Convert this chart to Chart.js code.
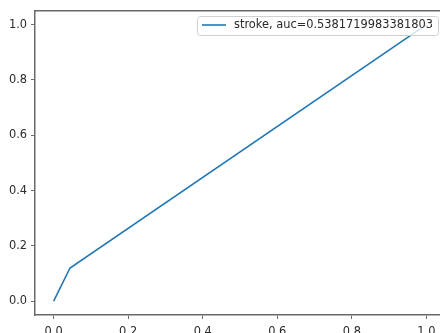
<!DOCTYPE html>
<html>
<head>
<meta charset="utf-8">
<script src="https://cdn.jsdelivr.net/npm/chart.js@4/dist/chart.umd.min.js"></script>
<style>
  html, body { margin: 0; padding: 0; overflow: hidden; background: #fff; width: 440px; height: 333px; }
  #wrap { position: absolute; left: 0; top: 0; width: 445px; height: 333px; }
</style>
</head>
<body>
<div id="wrap"><canvas id="c" width="445" height="333"></canvas></div>
<script>
const fpr = [0, 0.044, 1];
const tpr = [0, 0.12, 1];
const xTickValues = [0, 0.2, 0.4, 0.6, 0.8, 1.0];
const yTickValues = [0, 0.2, 0.4, 0.6, 0.8, 1.0];
const seriesLabel = 'stroke, auc=0.5381719983381803';

const FONT = 'DejaVu Sans';
const SPINE = '#6a6a6a';
const TXT = '#2a2a2a';
const BLUE = '#1f77b4';

const points = fpr.map((x, i) => ({ x: x, y: tpr[i] }));

const frame = {
  id: 'frame',
  afterDraw(chart) {
    const { ctx, chartArea: a } = chart;
    ctx.save();
    ctx.strokeStyle = SPINE;
    ctx.lineWidth = 1.5;
    ctx.beginPath();
    ctx.moveTo(a.left, a.top);
    ctx.lineTo(a.right, a.top);
    ctx.moveTo(a.right, a.top);
    ctx.lineTo(a.right, a.bottom);
    ctx.stroke();

    // legend box
    const bx = 197.5, by = 16.5, bw = 241, bh = 19;
    const r = 3;
    ctx.fillStyle = 'rgba(255,255,255,0.8)';
    ctx.strokeStyle = '#d0d0d0';
    ctx.lineWidth = 1;
    ctx.beginPath();
    ctx.moveTo(bx + r, by);
    ctx.lineTo(bx + bw - r, by);
    ctx.arcTo(bx + bw, by, bx + bw, by + r, r);
    ctx.lineTo(bx + bw, by + bh - r);
    ctx.arcTo(bx + bw, by + bh, bx + bw - r, by + bh, r);
    ctx.lineTo(bx + r, by + bh);
    ctx.arcTo(bx, by + bh, bx, by + bh - r, r);
    ctx.lineTo(bx, by + r);
    ctx.arcTo(bx, by, bx + r, by, r);
    ctx.closePath();
    ctx.fill();
    ctx.stroke();

    ctx.strokeStyle = BLUE;
    ctx.lineWidth = 1.6;
    ctx.beginPath();
    ctx.moveTo(202, 25);
    ctx.lineTo(226, 25);
    ctx.stroke();

    ctx.fillStyle = TXT;
    ctx.font = '11.4px "' + FONT + '"';
    ctx.textBaseline = 'middle';
    ctx.textAlign = 'left';
    ctx.fillText(seriesLabel, 234, 25.5);
    ctx.restore();
  }
};

new Chart(document.getElementById('c'), {
  type: 'line',
  data: {
    datasets: [{
      label: seriesLabel,
      data: points,
      borderColor: BLUE,
      backgroundColor: BLUE,
      borderWidth: 1.6,
      pointRadius: 0,
      tension: 0,
      fill: false
    }]
  },
  options: {
    responsive: false,
    animation: false,
    layout: { padding: { top: 10, left: 0, right: 0, bottom: 0 } },
    plugins: { legend: { display: false }, tooltip: { enabled: false } },
    scales: {
      x: {
        type: 'linear',
        min: -0.05,
        max: 1.05,
        afterBuildTicks: s => { s.ticks = xTickValues.map(v => ({ value: v })); },
        afterFit: s => { s.height = 18; },
        ticks: {
          color: TXT,
          font: { family: FONT, size: 11.4 },
          padding: 6,
          maxRotation: 0,
          autoSkip: false,
          callback: v => Number(v).toFixed(1)
        },
        grid: { drawOnChartArea: false, drawTicks: true, tickLength: 4, color: SPINE },
        border: { display: true, color: SPINE, width: 1.5 }
      },
      y: {
        type: 'linear',
        min: -0.05,
        max: 1.05,
        afterBuildTicks: s => { s.ticks = yTickValues.map(v => ({ value: v })); },
        afterFit: s => { s.width = 35; },
        ticks: {
          color: TXT,
          font: { family: FONT, size: 11.4 },
          padding: 4,
          autoSkip: false,
          callback: v => Number(v).toFixed(1)
        },
        grid: { drawOnChartArea: false, drawTicks: true, tickLength: 4, color: SPINE },
        border: { display: true, color: SPINE, width: 1.5 }
      }
    }
  },
  plugins: [frame]
});
</script>
</body>
</html>
